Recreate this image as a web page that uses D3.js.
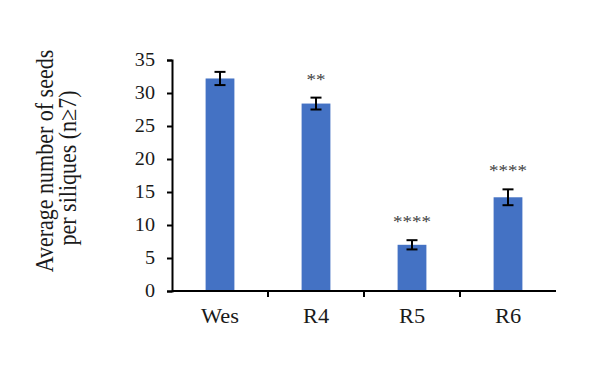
<!DOCTYPE html>
<html>
<head>
<meta charset="utf-8">
<script src="https://cdn.jsdelivr.net/npm/d3@7"></script>
<style>
  html, body { margin: 0; padding: 0; background: #fff; }
  svg { display: block; }
</style>
</head>
<body>
<svg id="chart" width="594" height="379"></svg>
<script>
// Seed counts per silique for each line
const categories = ["Wes", "R4", "R5", "R6"];
const means = [32.2, 28.4, 7.0, 14.2];
const errors = [1.0, 0.9, 0.7, 1.2];
const significance = ["", "**", "****", "****"];
const yTicks = [0, 5, 10, 15, 20, 25, 30, 35];

const svg = d3.select("#chart");
const margin = { left: 172, right: 38, top: 60, bottom: 88 };
const width = 594 - margin.left - margin.right;
const height = 379 - margin.top - margin.bottom;

const g = svg.append("g").attr("transform", `translate(${margin.left},${margin.top})`);

const x = d3.scaleBand().domain(categories).range([0, width]).paddingInner(0.7).paddingOuter(0.35);
const y = d3.scaleLinear().domain([0, 35]).range([height, 0]);

const serif = "'Liberation Serif', 'Times New Roman', serif";
const stretch = 1.12; // glyphs are set slightly wide
const textColor = "#1a1a1a";

// bars
g.selectAll("rect.bar").data(categories).join("rect")
  .attr("class", "bar")
  .attr("x", d => x(d))
  .attr("width", x.bandwidth())
  .attr("y", (d, i) => y(means[i]))
  .attr("height", (d, i) => height - y(means[i]))
  .attr("fill", "#4472C4");

// error bars
const capW = 11;
const eb = g.selectAll("g.err").data(categories).join("g").attr("class", "err")
  .attr("transform", d => `translate(${x(d) + x.bandwidth() / 2},0)`);
eb.append("line")
  .attr("y1", (d, i) => y(means[i] - errors[i]))
  .attr("y2", (d, i) => y(means[i] + errors[i]))
  .attr("stroke", "#000").attr("stroke-width", 2);
[1, -1].forEach(sign => {
  eb.append("line")
    .attr("x1", -capW / 2).attr("x2", capW / 2)
    .attr("y1", (d, i) => y(means[i] + sign * errors[i]))
    .attr("y2", (d, i) => y(means[i] + sign * errors[i]))
    .attr("stroke", "#000").attr("stroke-width", 2);
});

// significance stars
g.selectAll("text.sig").data(categories).join("text")
  .attr("class", "sig")
  .attr("transform", (d, i) =>
    `translate(${x(d) + x.bandwidth() / 2},${y(means[i] + errors[i]) - 13}) scale(${stretch},1)`)
  .attr("text-anchor", "middle")
  .attr("font-family", serif)
  .attr("font-size", 17)
  .attr("fill", "#404040")
  .text((d, i) => significance[i]);

// y axis
const yAxis = g.append("g")
  .call(d3.axisLeft(y).tickValues(yTicks).tickSize(5).tickPadding(12));
yAxis.select(".domain").attr("stroke", "#000").attr("stroke-width", 2);
yAxis.selectAll(".tick line").attr("stroke", "#000").attr("stroke-width", 2);
yAxis.selectAll(".tick text")
  .attr("x", -17 / stretch)
  .attr("transform", `scale(${stretch},1)`)
  .attr("font-family", serif).attr("font-size", 18).attr("fill", textColor);

// x axis: baseline plus ticks at category boundaries
const xAxis = g.append("g").attr("transform", `translate(0,${height})`);
xAxis.append("line").attr("x1", 0).attr("x2", width)
  .attr("stroke", "#000").attr("stroke-width", 2);
const step = x.step();
const boundaries = categories.slice(1).map(c => x(c) - (step - x.bandwidth()) / 2);
xAxis.selectAll("line.tk").data(boundaries).join("line")
  .attr("class", "tk")
  .attr("x1", d => d).attr("x2", d => d)
  .attr("y1", 0).attr("y2", 6)
  .attr("stroke", "#000").attr("stroke-width", 2);
xAxis.selectAll("text.cat").data(categories).join("text")
  .attr("class", "cat")
  .attr("transform", d => `translate(${x(d) + x.bandwidth() / 2},32) scale(${stretch},1)`)
  .attr("text-anchor", "middle")
  .attr("font-family", serif)
  .attr("font-size", 20)
  .attr("fill", textColor)
  .text(d => d);

// y axis title, two lines
const title = svg.append("g").attr("transform", `scale(${stretch},1)`)
  .append("text")
  .attr("transform", "rotate(-90)")
  .attr("text-anchor", "middle")
  .attr("font-family", serif)
  .attr("font-size", 22)
  .attr("fill", textColor);
title.append("tspan").attr("x", -161).attr("y", 53 / stretch).text("Average number of seeds");
title.append("tspan").attr("x", -168).attr("y", 76 / stretch).text("per siliques (n\u22657)");
</script>
</body>
</html>
